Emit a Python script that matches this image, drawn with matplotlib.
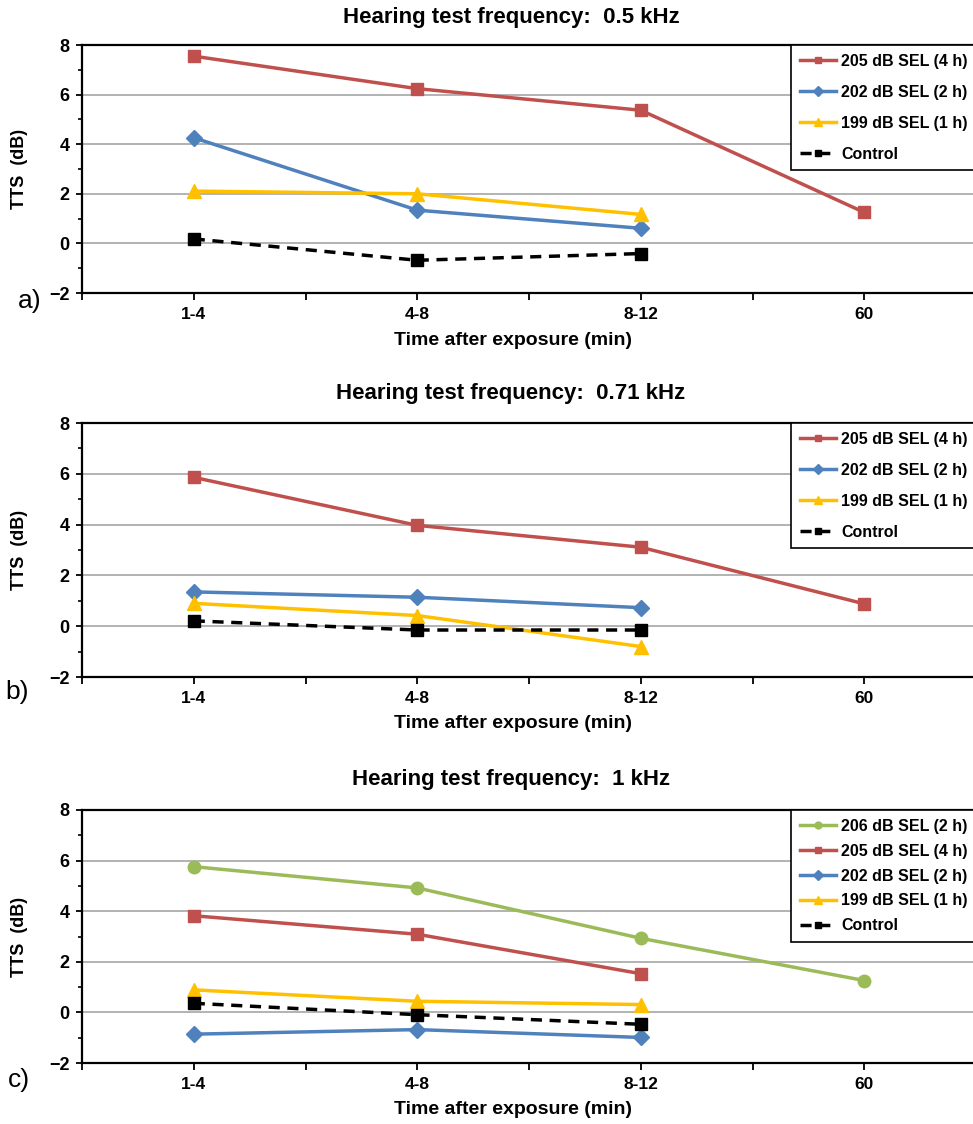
import matplotlib
matplotlib.use("Agg")
import matplotlib.pyplot as plt
from matplotlib.ticker import FixedLocator

plt.rcParams['font.family'] = ['Liberation Sans', 'DejaVu Sans']

categories = ["1-4", "4-8", "8-12", "60"]

# Panel a: 0.5 kHz
a_205 = [7.55, 6.24, 5.37, 1.25]
a_202 = [4.26, 1.34, 0.61]
a_199 = [2.11, 2.00, 1.17]
a_ctrl = [0.18, -0.68, -0.41]

# Panel b: 0.71 kHz
b_205 = [5.86, 3.97, 3.11, 0.88]
b_202 = [1.35, 1.14, 0.73]
b_199 = [0.90, 0.42, -0.80]
b_ctrl = [0.21, -0.15, -0.15]

# Panel c: 1 kHz
c_206 = [5.76, 4.92, 2.93, 1.26]
c_205 = [3.82, 3.09, 1.53]
c_202 = [-0.86, -0.68, -0.99]
c_199 = [0.89, 0.44, 0.31]
c_ctrl = [0.36, -0.09, -0.47]

titles = ["Hearing test frequency:  0.5 kHz",
          "Hearing test frequency:  0.71 kHz",
          "Hearing test frequency:  1 kHz"]
panel_labels = ["a)", "b)", "c)"]

RED = "#C0504D"
BLUE = "#4F81BD"
YEL = "#FFC000"
GRN = "#9BBB59"

W, H = 973, 1124
fig = plt.figure(figsize=(W / 100, H / 100), dpi=100)


def px_axes(left, top, right, bottom):
    return fig.add_axes([left / W, 1 - bottom / H, (right - left) / W, (bottom - top) / H])


def style_axes(ax):
    ax.set_xlim(-0.5, 3.5)
    ax.set_ylim(-2, 8)
    ax.set_yticks([-2, 0, 2, 4, 6, 8])
    ax.yaxis.set_minor_locator(FixedLocator([-1, 1, 3, 5, 7]))
    ax.set_xticks(range(len(categories)))
    ax.set_xticklabels(categories)
    ax.xaxis.set_minor_locator(FixedLocator([-0.5, 0.5, 1.5, 2.5, 3.5]))
    for sp in ["left", "bottom", "top"]:
        ax.spines[sp].set_color("black")
        ax.spines[sp].set_linewidth(1.6)
    ax.spines["right"].set_visible(False)
    ax.tick_params(axis="x", which="both", direction="out", length=5, width=1.3,
                   pad=5, labelsize=12.5)
    ax.tick_params(axis="y", which="major", direction="out", length=4, width=1.3,
                   pad=5, labelsize=13)
    ax.tick_params(axis="y", which="minor", direction="out", length=3, width=1.2)
    for lab in ax.get_xticklabels() + ax.get_yticklabels():
        lab.set_fontweight("bold")
    for g in [0, 2, 4, 6]:
        ax.axhline(g, color="#A6A6A6", lw=1.2, zorder=0)


def plot_series(ax, y, color, marker, ms, label, ls="-"):
    x = list(range(len(y)))
    ax.plot(x, y, color=color, lw=2.5, ls=ls, marker=marker, ms=ms,
            mfc=color, mec=color, label=label, zorder=3)


axes_px = [(82, 45, 976, 293), (82, 423, 976, 677), (82, 810, 976, 1063)]
title_y = [18, 393, 780]
xlabel_y = [341, 724, 1110]
plabel_pos = [(18, 301), (5, 692), (8, 1080)]

datasets = [
    [(a_205, RED, "s", 9, "205 dB SEL (4 h)"),
     (a_202, BLUE, "D", 8.5, "202 dB SEL (2 h)"),
     (a_199, YEL, "^", 10, "199 dB SEL (1 h)")],
    [(b_205, RED, "s", 9, "205 dB SEL (4 h)"),
     (b_202, BLUE, "D", 8.5, "202 dB SEL (2 h)"),
     (b_199, YEL, "^", 10, "199 dB SEL (1 h)")],
    [(c_206, GRN, "o", 9, "206 dB SEL (2 h)"),
     (c_205, RED, "s", 9, "205 dB SEL (4 h)"),
     (c_202, BLUE, "D", 8.5, "202 dB SEL (2 h)"),
     (c_199, YEL, "^", 10, "199 dB SEL (1 h)")],
]
controls = [a_ctrl, b_ctrl, c_ctrl]
leg_spacing = [1.0, 1.0, 0.62]

for i in range(3):
    ax = px_axes(*axes_px[i])
    style_axes(ax)
    for (y, col, mk, ms, lab) in datasets[i]:
        plot_series(ax, y, col, mk, ms, lab)
    x = list(range(len(controls[i])))
    ax.plot(x, controls[i], color="black", lw=2.5, ls=(0, (3.2, 2.2)), marker="s",
            ms=9, mfc="black", mec="black", label="Control", zorder=4)
    leg = ax.legend(loc="upper left", bbox_to_anchor=(0.793, 1.0), frameon=True,
                    fancybox=False, edgecolor="black", framealpha=1,
                    prop={"weight": "bold", "size": 11.5}, markerscale=0.55,
                    handlelength=2.3, handletextpad=0.3, labelspacing=leg_spacing[i],
                    borderpad=0.55, borderaxespad=0.0)
    leg.get_frame().set_linewidth(1.2)
    fig.text(511 / W, 1 - title_y[i] / H, titles[i], ha="center", va="center",
             fontsize=16, fontweight="bold")
    fig.text(513 / W, 1 - xlabel_y[i] / H, "Time after exposure (min)", ha="center",
             va="center", fontsize=14, fontweight="bold")
    top, bot = axes_px[i][1], axes_px[i][3]
    fig.text(19 / W, 1 - ((top + bot) / 2) / H, "TTS  (dB)", ha="center", va="center",
             rotation=90, fontsize=13, fontweight="bold")
    px, py = plabel_pos[i]
    fig.text(px / W, 1 - py / H, panel_labels[i], ha="left", va="center", fontsize=19)

fig.savefig("out.png", dpi=100)
